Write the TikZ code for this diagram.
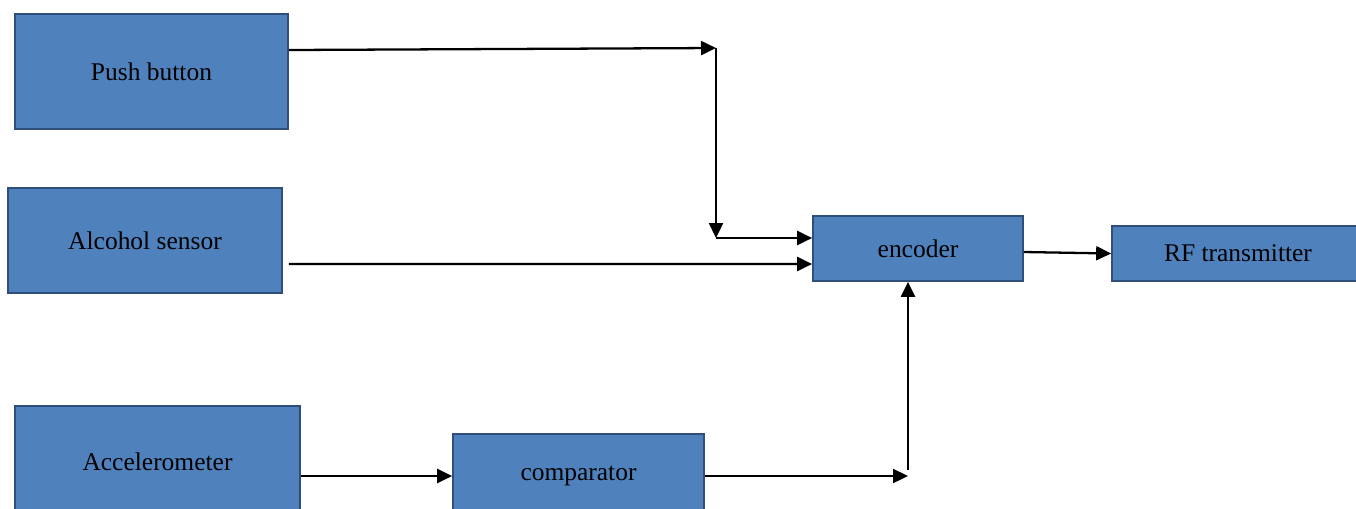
\documentclass[tikz,border=0pt]{standalone}
\usepackage{fontspec}
\setmainfont{Liberation Serif}
\definecolor{boxblue}{HTML}{4F81BD}
\definecolor{boxedge}{HTML}{2F4F7A}
\usetikzlibrary{
    arrows.meta,
    positioning,
    calc
}
\tikzstyle{block} = [
    rectangle,
    draw=boxedge,
    line width=1pt,
    fill=boxblue,
    inner sep=0pt,
    text centered,
    font=\fontsize{14.5}{17}\selectfont
]
\tikzstyle{link} = [
    -{Triangle[length=0.3cm,width=0.28cm]},
    line width=1.3pt,
    draw=black
]

\begin{document}
\begin{tikzpicture}[x=0.02cm, y=-0.02cm]
        \useasboundingbox (0,0) rectangle (1356,508);

        % inputs
        \node[block, minimum width=5.46cm, minimum height=2.3cm] (push) at (151.5,71.5) {Push button};
        \node[block, minimum width=5.48cm, minimum height=2.1cm] (alcohol) at (145,240.5) {Alcohol sensor};
        \node[block, minimum width=5.7cm, minimum height=2.24cm] (accel) at (157.5,462) {Accelerometer};

        % processing
        \node[block, minimum width=5.02cm, minimum height=1.68cm] (comp) at (578.5,476) {comparator};
        \node[block, minimum width=4.2cm, minimum height=1.3cm] (enc) at (918,248.5) {encoder};
        \node[block, minimum width=5.04cm, minimum height=1.1cm] (rf) at (1238,253.5) {RF transmitter};

        % push button path
        \coordinate (turn1) at (716,48);
        \coordinate (turn2) at (716,238);
        \draw[link] ([yshift=0.43cm]push.east) -- (turn1);
        \draw[link] (turn1) -- (turn2);
        \draw[link] (turn2) -- (enc.west |- turn2);

        % alcohol sensor
        \draw[link] ([xshift=0.12cm,yshift=-0.47cm]alcohol.east) -- ([yshift=-0.31cm]enc.west);

        % accelerometer and comparator
        \coordinate (up) at ([xshift=-0.2cm]enc.south |- comp.east);
        \draw[link] (accel.east |- comp.west) -- (comp.west);
        \draw[link] (comp.east) -- (up);
        \draw[link] ([yshift=0.12cm]up) -- ([xshift=-0.2cm]enc.south);

        % output
        \draw[link] ([yshift=-0.07cm]enc.east) -- (rf.west);
    \end{tikzpicture}
\end{document}
